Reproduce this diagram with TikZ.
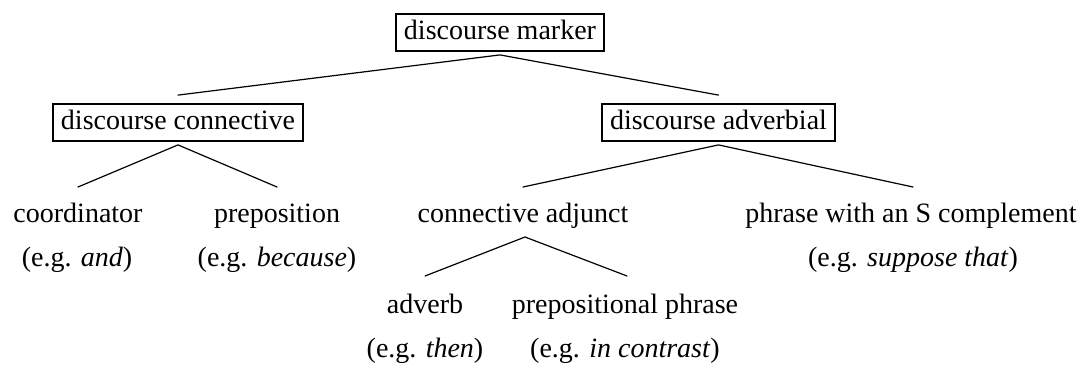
\documentclass[tikz,border=0pt]{standalone}
\usepackage{fontspec}
\setmainfont{Liberation Serif}
\begin{document}
\begin{tikzpicture}[x=1pt,y=-1pt,
  every node/.style={font=\fontsize{28}{30}\selectfont, inner sep=0pt},
  catbox/.style={draw, line width=1.8pt, inner xsep=8pt, text height=19pt, text depth=6pt, inner ysep=6pt},
  leaf/.style={anchor=base},
  branch/.style={line width=1.2pt, line cap=round}]
\useasboundingbox (0,0) rectangle (1085,365);
% boxed categories
\node[catbox] (dm) at (500,32.5) {discourse marker};
\node[catbox] (dc) at (178,122.5) {discourse connective};
\node[catbox] (da) at (718.5,122.5) {discourse adverbial};
% leaves
\node[leaf] (coord) at (78,222) {coordinator};
\node[leaf] (prep) at (277,222) {preposition};
\node[leaf] (coordex) at (77,266) {(e.g. \textit{and})};
\node[leaf] (prepex) at (277,266) {(e.g. \textit{because})};
\node[leaf] (cadj) at (523,222) {connective adjunct};
\node[leaf] (phr) at (911,222) {phrase with an S complement};
\node[leaf] (phrex) at (913,266) {(e.g. \textit{suppose that})};
\node[leaf] (adv) at (425,313) {adverb};
\node[leaf] (pp) at (625,313) {prepositional phrase};
\node[leaf] (advex) at (425,357) {(e.g. \textit{then})};
\node[leaf] (ppex) at (625,357) {(e.g. \textit{in contrast})};
% connector points
\coordinate (dmB) at ([yshift=-3pt]dm.south);
\coordinate (dcT) at ([yshift=8pt]dc.north);
\coordinate (daT) at ([yshift=8pt]da.north);
\coordinate (dcB) at ([yshift=-3pt]dc.south);
\coordinate (daB) at ([yshift=-3pt]da.south);
\coordinate (coordT) at (78,187);
\coordinate (prepT) at (277,187);
\coordinate (cadjT) at (523,187);
\coordinate (phrT) at (913,187);
\coordinate (cadjB) at (525,237);
\coordinate (advT) at (425,276);
\coordinate (ppT) at (627,276);
% connectors
\draw[branch] (dcT) -- (dmB) -- (daT);
\draw[branch] (coordT) -- (dcB) -- (prepT);
\draw[branch] (cadjT) -- (daB) -- (phrT);
\draw[branch] (advT) -- (cadjB) -- (ppT);
\end{tikzpicture}
\end{document}
